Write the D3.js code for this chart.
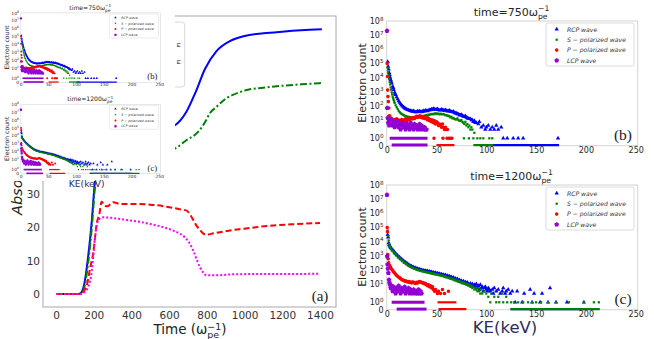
<!DOCTYPE html>
<html>
<head>
<meta charset="utf-8">
<script src="https://cdn.jsdelivr.net/npm/d3@7"></script>
<style>
body { margin: 0; background: #fff; }
svg { display: block; font-family: "DejaVu Sans", sans-serif; }
</style>
</head>
<body>
<svg id="fig" width="654" height="339"></svg>
<script>
// ---------- data: panel (a) absorption vs time ----------
const timeTicks = [0, 200, 400, 600, 800, 1000, 1200, 1400]
const absTicks = [0, 10, 20, 30, 40, 50, 60, 70, 80]
const rcpAbs = [[0,0],[60,0],[120,0],[132,0.3],[150,3],[170,11],[190,22],[205,33],[220,40],[250,44],[300,46],[400,47.5],[500,48.5],[600,50],[633,50.7],[690,54.5],[740,60.5],[790,67.5],[850,72.8],[920,75.8],[1000,77.4],[1100,78.2],[1200,78.7],[1300,79.1],[1410,79.4]]
const sAbs = [[0,0],[60,0],[120,0],[135,0.3],[150,2],[170,9],[190,20],[207,32],[230,37],[300,39],[400,40.5],[500,42],[600,43],[633,43.7],[693,46.2],[755,48.7],[790,51.5],[817,54.3],[852,56.2],[905,58.8],[941,59.8],[1012,61.2],[1118,62],[1206,62.5],[1300,62.9],[1409,63.3]]
const pAbs = [[0,0],[60,0],[127,0],[150,1],[165,3],[180,7.5],[198,12.5],[216,21.2],[230,24],[242,27.7],[258,26.5],[272,26.3],[290,27],[304,27.5],[340,27],[411,27],[500,26.8],[587,26.2],[650,25.5],[693,25],[715,23.5],[728,22.2],[745,20.5],[764,19.2],[780,18.2],[799,17.8],[835,18.2],[941,19.2],[1030,19.8],[1118,20.4],[1250,20.9],[1400,21.3]]
const lcpAbs = [[0,0],[60,0],[130,0],[150,0.5],[170,2],[190,7],[207,17],[225,22.2],[251,23],[300,22.8],[375,22.2],[440,21.7],[499,21],[560,20.2],[622,19],[660,18],[684,17],[705,15.5],[728,13],[745,10.5],[764,8],[780,6.5],[799,5.6],[850,5.6],[941,5.9],[1100,6],[1250,6],[1400,6.1]]

// ---------- data: electron spectra [KE keV, count] ----------
const keTicks = [0, 50, 100, 150, 200, 250]
const countTicks = [0, 1, 10, 100, 1e3, 1e4, 1e5, 1e6, 1e7, 1e8]
const seriesNames = ['RCP wave', 'S \u2212 polarized wave', 'P \u2212 polarized wave', 'LCP wave']

const rcp750 = [[1,130000],[1.5,60000],[2,38000],[2.5,22000],[3,15000],[3.5,10000],[4,7000],[4.5,5200],[5,4000],[6,2300],[6.5,1900],[7,1400],[8,900],[8.5,700],[9,600],[10,420],[11,300],[12,220],[13,170],[14,135],[15,110],[16,95],[17,80],[18,70],[19,62],[20,57],[21,52],[22,50],[23,46],[24,45],[25,41],[26,40],[27,43],[28,38],[29,36],[30,37],[31,41],[32,38],[33,42],[34,39],[35,37],[36,40],[37,44],[38,42],[39,47],[40,45],[41,43],[42,48],[43,52],[44,50],[45,58],[46,55],[47,62],[48,57],[49,53],[50,55],[51,60],[52,52],[53,48],[54,50],[55,55],[56,52],[57,47],[58,48],[59,51],[60,46],[61,42],[62,44],[63,47],[64,40],[65,38],[66,36],[67,40],[68,33],[69,30],[70,30],[71,27],[72,26],[73,23],[74,22],[75,24],[76,20],[77,18],[78,17],[79,19],[80,15],[81,14],[82,13],[83,12],[84,12],[85,10],[86,10],[87,8],[88,9],[89,7],[90,7],[92,6],[93,8],[95,4],[97,5],[99,3],[100,4],[102,5],[104,3],[106,4],[108,3],[110,5],[112,3],[115,4],[117,1],[121,1],[127,1],[132,1],[137,1],[172,1]]
const s750 = [[1,50000],[1.5,25000],[2,15000],[2.5,8000],[3,5000],[3.5,3200],[4,2000],[4.5,1400],[5,900],[5.5,650],[6,450],[6.5,340],[7,260],[7.5,200],[8,160],[9,110],[10,80],[11,60],[12,45],[13,36],[14,30],[15,27],[16,24],[17,22],[18,20],[19,19],[20,18],[21,16],[22,17],[23,15],[24,16],[25,14],[26,15],[27,16],[28,15],[29,14],[30,16],[31,17],[32,15],[33,18],[34,17],[35,16],[36,19],[37,18],[38,20],[39,21],[40,22],[41,20],[42,24],[43,23],[44,25],[45,26],[46,27],[47,25],[48,28],[49,30],[50,26],[51,29],[52,27],[53,25],[54,28],[55,26],[56,25],[57,27],[58,24],[59,22],[60,22],[61,20],[62,20],[63,18],[64,15],[65,17],[66,13],[67,14],[68,12],[69,11],[70,11],[71,13],[72,10],[73,9],[74,9],[75,10],[76,8],[77,7],[78,6],[79,8],[80,5],[81,6],[82,4],[83,5],[84,3],[85,4],[86,3],[88,2],[77.5,1],[82.5,1],[87,1],[91,1],[94,1],[97,1],[103,1],[106,1]]
const p750 = [[0.5,100000],[0.8,12000],[1,1300],[1.3,450],[1.7,200],[2.2,70],[2,18],[3,20],[4,14],[5,12],[6,10],[7,9],[8,11],[9,8],[10,12],[11,9],[12,10],[13,8],[14,9],[15,11],[16,8],[17,10],[18,9],[19,12],[20,8],[21,10],[22,13],[23,11],[24,12],[25,14],[26,12],[27,15],[28,13],[29,16],[30,18],[31,15],[32,17],[33,20],[34,16],[35,18],[36,14],[37,17],[38,13],[39,15],[40,12],[41,10],[42,13],[43,9],[44,11],[45,8],[46,10],[47,7],[48,9],[49,6],[50,8],[51,7],[52,5],[53,6],[54,5],[55,4],[56,6],[57,4],[58,3],[59,4],[60,3],[61,3],[47.5,1],[56.5,1],[60.5,1],[62.5,1],[64,1],[65.5,1]]
const lcp750 = [[0.3,20000000],[0.5,70],[1,14],[1.5,7],[2,12],[2.5,5],[3,9],[4,6],[5,11],[6,5],[7,8],[8,4],[9,7],[10,5],[11,9],[12,4],[13,6],[14,3],[15,5],[16,7],[17,4],[18,5],[19,3],[20,6],[21,4],[22,5],[23,3],[24,7],[25,4],[26,5],[27,3],[28,6],[29,4],[30,5],[31,3],[32,4],[33,6],[34,3],[35,5],[36,4],[37,3],[38,4],[39,3],[40,3]]
// runs of adjacent bins sharing one count: [series, count, first KE, last KE]
const rows750 = [[0,0,100,173],[1,0,87,107],[2,0,50,68],[3,0,5,41],[3,1,3,41]]

const rcp1200 = [[1,30000],[1.5,20000],[2,8000],[2.5,6000],[3,5200],[3.5,4300],[4,3600],[5,3100],[6,2400],[7,2200],[8,1600],[9,1450],[10,1150],[11,1050],[12,820],[13,780],[14,620],[15,580],[16,460],[17,440],[18,350],[19,340],[20,280],[21,270],[22,220],[23,215],[24,180],[25,178],[26,155],[27,152],[28,135],[29,136],[30,120],[31,122],[32,106],[33,110],[34,97],[35,100],[36,88],[37,92],[38,82],[39,87],[40,77],[41,82],[42,72],[43,76],[44,68],[45,71],[46,62],[47,66],[48,57],[49,62],[50,53],[51,58],[52,50],[53,54],[54,46],[55,50],[56,42],[57,46],[58,38],[59,43],[60,35],[61,39],[62,32],[63,36],[64,29],[65,31],[66,26],[67,29],[68,23],[69,25],[70,20],[71,23],[72,17],[73,19],[74,16],[75,17],[76,13],[77,16],[78,12],[79,14],[80,11],[81,13],[82,10],[83,9],[84,11],[85,8],[86,10],[87,7],[88,9],[89,8],[90,10],[91,6],[92,8],[93,5],[94,9],[95,6],[96,7],[97,4],[98,6],[99,7],[100,5],[101,4],[102,6],[103,5],[104,4],[106,5],[107,3],[108,6],[110,4],[112,5],[114,3],[116,4],[117,6],[119,3],[120,4],[122,5],[124,3],[126,4],[131,4],[138,3],[144,5],[148,3],[156,3],[164,6],[129,1],[136,1],[146,1],[154,1],[162,1],[170,1],[181,1],[198,1]]
const s1200 = [[1,60000],[1.5,25000],[2,12000],[2.5,7000],[3,4800],[3.5,4000],[4,3300],[5,2600],[6,2100],[7,1850],[8,1450],[9,1280],[10,1000],[11,920],[12,740],[13,680],[14,540],[15,500],[16,410],[17,380],[18,310],[19,300],[20,245],[21,230],[22,195],[23,190],[24,160],[25,155],[26,136],[27,132],[28,116],[29,115],[30,102],[31,104],[32,92],[33,94],[34,83],[35,86],[36,76],[37,80],[38,70],[39,73],[40,66],[41,69],[42,61],[43,64],[44,56],[45,59],[46,52],[47,56],[48,48],[49,51],[50,45],[51,49],[52,42],[53,45],[54,39],[55,41],[56,36],[57,38],[58,32],[59,35],[60,29],[61,31],[62,26],[63,28],[64,23],[65,25],[66,21],[67,23],[68,18],[69,20],[70,16],[71,18],[72,14],[73,16],[74,13],[75,14],[76,11],[77,13],[78,10],[79,11],[80,9],[81,10],[82,8],[83,9],[84,7],[85,8],[86,6],[87,7],[88,5],[89,6],[90,5],[91,4],[92,6],[93,4],[94,3],[95,5],[96,3],[98,4],[100,3],[102,2],[105,3],[108,2],[112,2],[116,3],[120,2],[104,1],[110,1],[113,1],[117,1],[121,1],[125,1],[128,1],[132,1],[137,1],[142,1],[146,1],[150,1],[155,1],[162,1],[170,1],[183,1],[198,1],[208,1],[213,1]]
const p1200 = [[0.5,100000],[0.8,50000],[1,1200],[1.5,600],[2,310],[3,200],[4,150],[5,110],[6,90],[7,71],[8,60],[9,48],[10,40],[11,35],[12,30],[13,27],[14,24],[15,21],[16,19],[17,18],[18,16],[19,17],[20,15],[21,14],[22,15],[23,13],[24,14],[25,12],[26,14],[27,13],[28,12],[29,11],[30,13],[31,12],[32,14],[33,15],[34,14],[35,13],[36,12],[37,12],[38,10],[39,11],[40,9],[41,8],[42,9],[43,7],[44,8],[45,6],[46,7],[47,5],[48,4],[49,5],[50,4],[51,3],[52,4],[54,3],[56,5],[58,3],[62,4]]
const lcp1200 = [[0.3,20000000],[0.5,900],[0.8,240],[1.2,120],[1.7,60],[2.3,20],[2.8,12],[3.3,9],[4,6],[5,8],[6,4],[7,7],[8,5],[9,3],[10,6],[11,4],[12,8],[13,5],[14,3],[15,6],[16,4],[17,5],[18,7],[19,3],[20,5],[21,4],[22,6],[23,3],[24,5],[25,4],[26,3],[27,5],[28,4],[29,3],[30,4],[31,3],[32,5],[33,3],[34,4],[35,3]]
const rows1200 = [[0,0,125,200],[1,0,124,214],[2,0,52,80],[2,1,51,70],[3,0,10,40],[3,1,5,38]]

// ---------- styles ----------
const colors = ['#0000ff', '#008000', '#ff0000', '#9400d3']
const lineColors = ['#0000ff', '#008000', '#ff0000', '#ff00ff']
const dashes = [null, '7,2.5,2,2.5', '6,3', '2,2']

const pentagon = {
    draw(ctx, size) {
        const r = Math.sqrt(size / 2.378)
        for (let i = 0; i < 5; i++) {
            const a = -Math.PI / 2 + i * 2 * Math.PI / 5
            if (i) ctx.lineTo(r * Math.cos(a), r * Math.sin(a))
            else ctx.moveTo(r * Math.cos(a), r * Math.sin(a))
        }
        ctx.closePath()
    }
}
const symbols = [
    d3.symbol(d3.symbolTriangle, 8),
    d3.symbol(d3.symbolSquare, 5),
    d3.symbol(d3.symbolCircle, 10),
    d3.symbol(pentagon, 15)
]

const svg = d3.select('#fig')

// omega_pe^-1 with stacked sub/superscript
function omega(text, size, rise) {
    text.append('tspan').text('\u03c9')
    text.append('tspan').attr('font-size', size * 0.7).attr('dy', size * 0.3).text('pe')
    text.append('tspan').attr('font-size', size * 0.7).attr('dx', -size * 0.7 * 1.25).attr('dy', -size * rise).text('\u22121')
}

// ---------- panel (a) ----------
const xA = d3.scaleLinear([-69, 1485], [43, 336])
const yA = d3.scaleLinear([-3.9, 83.4], [307, 16])
const gA = svg.append('g')

gA.append('rect')
    .attr('x', xA.range()[0]).attr('y', yA.range()[1])
    .attr('width', xA.range()[1] - xA.range()[0])
    .attr('height', yA.range()[0] - yA.range()[1])
    .attr('fill', 'none').attr('stroke', '#a8a8a8')

const line = d3.line().x(d => xA(d[0])).y(d => yA(d[1])).curve(d3.curveMonotoneX);
[rcpAbs, sAbs, pAbs, lcpAbs].forEach(function(s, i) {
    gA.append('path')
        .attr('d', line(s))
        .attr('fill', 'none')
        .attr('stroke', lineColors[i])
        .attr('stroke-width', 2)
        .attr('stroke-dasharray', dashes[i])
})

gA.append('g').attr('transform', 'translate(0,307)')
    .call(d3.axisBottom(xA).tickValues(timeTicks).tickFormat(d3.format('d')).tickSize(0).tickPadding(4.5))
gA.append('g').attr('transform', 'translate(43,0)')
    .call(d3.axisLeft(yA).tickValues(absTicks).tickSize(0).tickPadding(3))
gA.selectAll('.domain').remove()
gA.selectAll('.tick text').attr('font-size', 10.5).attr('font-family', 'DejaVu Sans').attr('fill', '#333')

gA.append('text')
    .attr('transform', 'translate(22,215) rotate(-90)')
    .attr('font-size', 14.5).attr('font-style', 'italic').attr('fill', '#222')
    .text('Absorption (%)')

const tl = gA.append('text').attr('x', 190).attr('y', 334).attr('text-anchor', 'middle')
    .attr('font-size', 13.5).attr('fill', '#222')
tl.append('tspan').text('Time (')
omega(tl, 13.5, 0.62)
tl.append('tspan').attr('dy', 13.5 * 0.32).text(')')

gA.append('text').attr('x', 320).attr('y', 301).attr('text-anchor', 'middle')
    .attr('font-family', 'Liberation Serif').attr('font-size', 15).attr('fill', '#222').text('(a)')

// legend box of (a), mostly hidden under the inset
gA.append('rect').attr('x', 100).attr('y', 22).attr('width', 84.7).attr('height', 65).attr('rx', 3)
    .attr('fill', '#fff').attr('stroke', '#d8d8d8')
gA.selectAll('.lg').data([45, 62]).join('text')
    .attr('transform', d => `translate(176.8,${d}) rotate(90)`)
    .attr('text-anchor', 'middle').attr('font-size', 6).attr('fill', '#333').text('\u03c9')

// ---------- spectra panels (b), (c) ----------
function drawSpectra(g, top, time, tag, series, rows, withXLabel) {
    const x = d3.scaleLinear([0, 250], [386.7, 635.7])
    const y = d3.scaleLog().domain([1, 10, 1e8]).range([top + 117.3, top + 99, top])
    const y0 = top + 124.7
    const pos = c => c > 0 ? y(c) : y0

    g.append('rect').attr('x', 386.7).attr('y', top).attr('width', 251).attr('height', y0 - top)
        .attr('fill', 'none').attr('stroke', '#d4d4d4')

    series.forEach(function(pts, i) {
        g.append('g').selectAll('line').data(rows.filter(r => r[0] === i)).join('line')
            .attr('x1', r => x(r[2])).attr('x2', r => x(r[3]))
            .attr('y1', r => pos(r[1]) - (r[1] ? 0 : 0.6)).attr('y2', r => pos(r[1]) - (r[1] ? 0 : 0.6))
            .attr('stroke', colors[i]).attr('stroke-width', i === 3 ? 3 : 2.2)
        g.append('g').selectAll('path').data(pts).join('path')
            .attr('transform', d => `translate(${x(d[0])},${pos(d[1])})`)
            .attr('d', symbols[i]).attr('fill', colors[i])
    })

    // x ticks
    g.append('g').attr('transform', `translate(0,${y0})`)
        .call(d3.axisBottom(x).tickValues(keTicks).tickSize(0).tickPadding(1.5))
        .call(a => a.select('.domain').remove())
        .selectAll('text').attr('font-size', 8).attr('font-family', 'DejaVu Sans').attr('fill', '#262626')

    // y ticks with powers of ten
    const yt = g.append('g').selectAll('text').data(countTicks).join('text')
        .attr('x', 383.5).attr('y', d => pos(d) + 3).attr('text-anchor', 'end')
        .attr('font-size', 8).attr('fill', '#262626')
    yt.filter(d => d === 0).text('0')
    yt.filter(d => d > 0).each(function(d) {
        const t = d3.select(this)
        t.append('tspan').text('10')
        t.append('tspan').attr('font-size', 5.6).attr('dy', -3.5).text(Math.round(Math.log10(d)))
    })

    g.append('text').attr('transform', `translate(365.7,${top + 62}) rotate(-90)`)
        .attr('text-anchor', 'middle').attr('font-size', 11).attr('fill', '#262626').text('Electron count')

    const tt = g.append('text').attr('x', 511.5).attr('y', top - 5.5).attr('text-anchor', 'middle')
        .attr('font-size', 11).attr('fill', '#262626')
    tt.append('tspan').text('time=' + time)
    omega(tt, 11, 0.7)

    // legend
    const lg = g.append('g').attr('transform', `translate(546,${top + 2})`)
    lg.append('rect').attr('width', 88).attr('height', 43).attr('rx', 2)
        .attr('fill', '#fff').attr('stroke', '#dcdcdc')
    seriesNames.forEach(function(name, i) {
        const yy = 6.3 + i * 10.4
        lg.append('path').attr('transform', `translate(10.7,${yy})`).attr('d', symbols[i]).attr('fill', colors[i])
        lg.append('text').attr('x', 21).attr('y', yy + 2.2).attr('font-size', 6.1)
            .attr('font-style', 'italic').attr('fill', '#333').text(name)
    })

    g.append('text').attr('x', 623).attr('y', top + 119).attr('text-anchor', 'middle')
        .attr('font-family', 'Liberation Serif').attr('font-size', 15.5).attr('fill', '#222').text(tag)

    if (withXLabel) {
        g.append('text').attr('x', 505).attr('y', top + 148).attr('text-anchor', 'middle')
            .attr('font-size', 16.5).attr('fill', '#2d2d5a').text('KE(keV)')
    }
}

function drawColumn(g) {
    drawSpectra(g, 21, '750', '(b)', [rcp750, s750, p750, lcp750], rows750, false)
    drawSpectra(g, 185, '1200', '(c)', [rcp1200, s1200, p1200, lcp1200], rows1200, true)
}

drawColumn(svg.append('g'))

// ---------- small pasted copy of (b), (c) over panel (a) ----------
svg.append('clipPath').attr('id', 'insetClip')
    .append('rect').attr('width', 175).attr('height', 195)
svg.append('rect').attr('width', 175).attr('height', 181).attr('fill', '#fff')
const inset = svg.append('g').attr('clip-path', 'url(#insetClip)')
    .append('g').attr('transform', 'translate(-194.6,1.2) scale(0.557)')
drawColumn(inset)
</script>
</body>
</html>
